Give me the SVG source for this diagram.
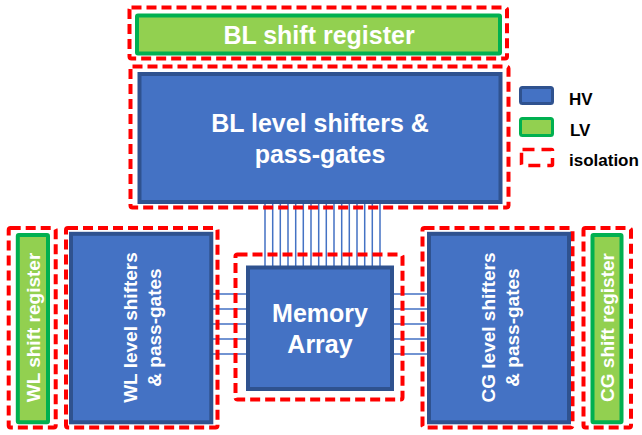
<svg xmlns="http://www.w3.org/2000/svg" width="642" height="435" viewBox="0 0 642 435">
<style>
.iso{fill:none;stroke:#FF0000;stroke-width:4;stroke-dasharray:10 5}
.hv{fill:#4472C4;stroke:#2F528F;stroke-width:4}
.lv{fill:#92D050;stroke:#00B050;stroke-width:4}
.t{font-family:"Liberation Sans",Arial,sans-serif;font-weight:bold;fill:#FFFFFF;text-anchor:middle}
.lg{font-family:"Liberation Sans",Arial,sans-serif;font-weight:bold;fill:#000000;font-size:17px}
.w{stroke:#4472C4;stroke-width:1.5;fill:none}
</style>
<rect width="642" height="435" fill="#FFFFFF"/>
<g id="connectors">
<path class="w" d="M265,202V267M272.7,202V267M280.3,202V267M288,202V267M295.7,202V267M303.3,202V267M311,202V267M318.7,202V267M326.3,202V267M334,202V267M341.7,202V267M349.3,202V267M357,202V267M364.7,202V267M372.3,202V267M380,202V267"/>
<path class="w" d="M211,294H248M211,309H248M211,324H248M211,339H248M211,354H248"/>
<path class="w" d="M383,294H429M383,309H429M383,324H429M383,339H429M383,354H429"/>
</g>
<g id="bl-shift-register">
<rect class="iso" x="129.5" y="7.5" width="377.5" height="51" rx="2"/>
<rect class="lv" x="137" y="15.5" width="363" height="38" rx="1"/>
<text class="t" x="319" y="44" font-size="25">BL shift register</text>
</g>
<g id="bl-level-shifters">
<rect class="iso" x="130.5" y="66.5" width="378" height="141" rx="2"/>
<rect class="hv" x="139.5" y="74" width="361" height="128"/>
<text class="t" x="320" y="131.5" font-size="25">BL level shifters &amp;</text>
<text class="t" x="320" y="162.5" font-size="25">pass-gates</text>
</g>
<g id="memory-array">
<rect class="iso" x="235.5" y="254.5" width="167" height="145" rx="2"/>
<rect class="hv" x="248" y="267.5" width="144" height="121.5"/>
<text class="t" x="320" y="322" font-size="25">Memory</text>
<text class="t" x="320" y="353" font-size="25">Array</text>
</g>
<g id="wl-shift-register">
<rect class="iso" x="8.7" y="228" width="47" height="199.5" rx="2"/>
<rect class="lv" x="17.8" y="235" width="30.2" height="187.3" rx="1"/>
<text class="t" font-size="19" transform="translate(40,327.5) rotate(-90)">WL shift register</text>
</g>
<g id="wl-level-shifters">
<rect class="iso" x="66" y="228" width="151.5" height="199.5" rx="2"/>
<rect class="hv" x="71" y="233.8" width="140.3" height="188.5"/>
<text class="t" font-size="19" transform="translate(137,327.5) rotate(-90)">WL level shifters</text>
<text class="t" font-size="19" transform="translate(161,327.5) rotate(-90)">&amp; pass-gates</text>
</g>
<g id="cg-level-shifters">
<rect class="iso" x="422.5" y="228" width="150" height="199.5" rx="2"/>
<rect class="hv" x="429" y="233.8" width="140" height="188.5"/>
<text class="t" font-size="19" transform="translate(495,327.5) rotate(-90)">CG level shifters</text>
<text class="t" font-size="19" transform="translate(519,327.5) rotate(-90)">&amp; pass-gates</text>
</g>
<g id="cg-shift-register">
<rect class="iso" x="583.5" y="228" width="47.5" height="199.5" rx="2"/>
<rect class="lv" x="592.5" y="235" width="29" height="187.3" rx="1"/>
<text class="t" font-size="19" transform="translate(614,327.5) rotate(-90)">CG shift register</text>
</g>
<g id="legend">
<rect x="520.5" y="87.5" width="32" height="16" rx="2" fill="#4472C4" stroke="#2F528F" stroke-width="3"/>
<text class="lg" x="569" y="105">HV</text>
<rect x="520.5" y="118.5" width="32" height="17" rx="2" fill="#92D050" stroke="#00B050" stroke-width="3"/>
<text class="lg" x="570" y="136">LV</text>
<rect x="521.5" y="149.5" width="31" height="16" rx="1" fill="none" stroke="#FF0000" stroke-width="3.5" stroke-dasharray="12 7"/>
<text class="lg" x="569" y="166">isolation</text>
</g>
</svg>
